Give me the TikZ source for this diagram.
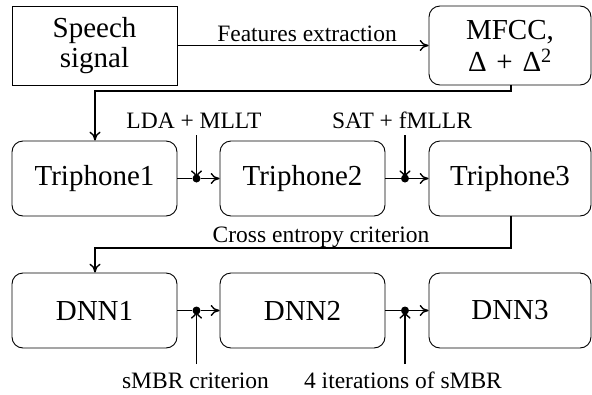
\documentclass[tikz,border=0pt]{standalone}
\usepackage{fontspec}
\setmainfont{Liberation Serif}
\usetikzlibrary{arrows.meta}
\begin{document}
\begin{tikzpicture}[x=1pt,y=-1pt,
  box/.style={draw, line width=0.9pt, minimum height=75pt, inner sep=0pt, align=center, font=\fontsize{29}{33}\selectfont},
  rbox/.style={box, rounded corners=11pt},
  conn/.style={line width=1.4pt, -{To[length=9pt,width=11pt]}},
  plain/.style={line width=1.4pt},
  lbl/.style={font=\fontsize{23.5}{26}\selectfont, inner sep=0pt, anchor=base},
  dotnode/.style={circle, fill, inner sep=0pt, minimum size=8pt}]
\useasboundingbox (0,0) rectangle (592,394);
% boxes
\node[box, minimum width=165pt, minimum height=79pt] (speech) at (94.5,45.5) {Speech\\[-3pt]signal};
\node[rbox, minimum width=162pt, minimum height=79pt] (mfcc) at (510,45.5) {MFCC,\\[-1pt]Δ\,\,+\,\,Δ\textsuperscript{2}};
\node[rbox, minimum width=165pt] (t1) at (94.5,178.5) {Triphone1};
\node[rbox, minimum width=165pt] (t2) at (302.5,178.5) {Triphone2};
\node[rbox, minimum width=162pt] (t3) at (510,178.5) {Triphone3};
\node[rbox, minimum width=165pt] (d1) at (94.5,310.5) {DNN1};
\node[rbox, minimum width=165pt] (d2) at (302.5,310.5) {DNN2};
\node[rbox, minimum width=162pt] (d3) at (510,310.5) {DNN3};
% dots
\node[dotnode] (p1) at (196.5,178.5) {};
\node[dotnode] (p2) at (405,178.5) {};
\node[dotnode] (q1) at (196.5,310.5) {};
\node[dotnode] (q2) at (405,310.5) {};
% labels
\node[lbl] (l1) at (194,128) {LDA + MLLT};
\node[lbl] (l2) at (402,128) {SAT + fMLLR};
\node[lbl] (l3) at (195.5,388) {sMBR criterion};
\node[lbl] (l4) at (403,388) {4 iterations of sMBR};
\coordinate (a1) at (196.5,135);
\coordinate (a2) at (405,135);
\coordinate (b1) at (196.5,364);
\coordinate (b2) at (405,364);
% connectors
\draw[conn] (speech.east) -- (mfcc.west);
\node[lbl] (fe) at (307,41) {Features extraction};
\draw[conn] (mfcc.south -| 511,0) |- (95,91) -- (t1.north -| 95,0);
\draw[conn] (t3.south -| 511,0) |- (95,248) -- (d1.north -| 95,0);
\node[lbl] (ce) at (321,242) {Cross entropy criterion};
\draw[plain] (t1.east) -- (p1);
\draw[conn] (p1) -- (t2.west);
\draw[plain] (t2.east) -- (p2);
\draw[conn] (p2) -- (t3.west);
\draw[plain] (d1.east) -- (q1);
\draw[conn] (q1) -- (d2.west);
\draw[plain] (d2.east) -- (q2);
\draw[conn] (q2) -- (d3.west);
\draw[conn] (a1) -- ([yshift=-5pt]p1.north);
\draw[conn] (a2) -- ([yshift=-5pt]p2.north);
\draw[conn] (b1) -- ([yshift=5pt]q1.south);
\draw[conn] (b2) -- ([yshift=5pt]q2.south);
\end{tikzpicture}
\end{document}
